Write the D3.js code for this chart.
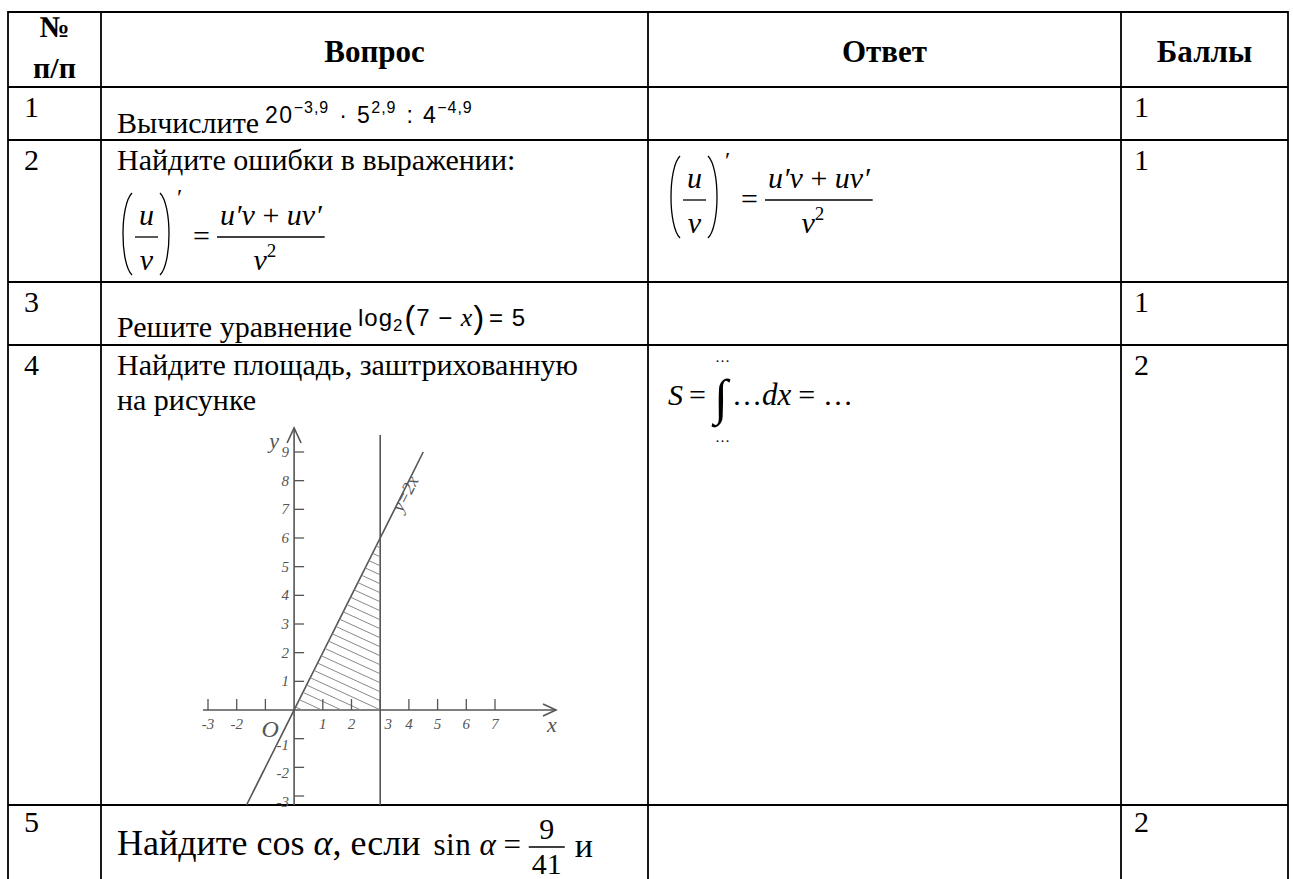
<!DOCTYPE html>
<html><head><meta charset="utf-8">
<script src="https://cdn.jsdelivr.net/npm/d3@7"></script>
<style>body{margin:0;background:#fff}svg{display:block}text{white-space:pre}</style>
</head><body>
<svg id="c" width="1293" height="879"></svg>
<script>
// ---------- data ----------
const headerLabels = [["№", "п/п"], ["Вопрос"], ["Ответ"], ["Баллы"]];
const rowNumbers = ["1", "2", "3", "4", "5"];
const questionLead = ["Вычислите", "Найдите ошибки в выражении:", "Решите уравнение", "Найдите площадь, заштрихованную", "Найдите"];
const questionLine2 = ["", "", "", "на рисунке", ""];
const scores = ["1", "1", "1", "2", "2"];
const powerBases = ["20", "5", "4"];
const powerExps = ["−3,9", "2,9", "−4,9"];
const powerOps = ["·", ":"];
const xTickValues = [-3, -2, -1, 1, 2, 3, 4, 5, 6, 7];
const xTickLabels = ["-3", "-2", "", "1", "2", "3", "4", "5", "6", "7"];
const yTickValues = [-3, -2, -1, 1, 2, 3, 4, 5, 6, 7, 8, 9];
const lineSlope = 2;          // y = 2x
const boundaryX = 3;          // x = 3
const lineLabel = "y=2x";
const fracNum = "9", fracDen = "41";

// ---------- layout ----------
const svg = d3.select("#c");
const SERIF = "'Liberation Serif','Times New Roman',serif";
const SANS = "'Liberation Sans',Arial,sans-serif";
const colEdges = [8, 101, 648, 1121, 1288];
const rowEdges = [12, 87, 140, 282, 345, 805];
const bottom = 879;
const BODY = 30;

const grid = svg.append("g").attr("stroke", "#000").attr("stroke-width", 1.8);
colEdges.forEach(x => grid.append("line").attr("x1", x).attr("x2", x).attr("y1", rowEdges[0] - 0.9).attr("y2", bottom));
rowEdges.forEach(y => grid.append("line").attr("x1", colEdges[0]).attr("x2", colEdges[4]).attr("y1", y).attr("y2", y));

function txt(g, x, y, t, o = {}) {
  const e = g.append("text").attr("x", x).attr("y", y)
    .style("font-family", o.f || SERIF).style("font-size", (o.s || BODY) + "px")
    .style("font-style", o.i ? "italic" : "normal").style("font-weight", o.b ? "bold" : "normal")
    .attr("text-anchor", o.a || "start").attr("fill", o.c || "#000").text(t);
  if (o.ls) e.style("letter-spacing", o.ls + "px");
  return e;
}
function run(g, x, y, parts) {
  let cx = x;
  parts.forEach(p => {
    if (p.gap !== undefined) { cx += p.gap; return; }
    const t = txt(g, cx, y + (p.dy || 0), p.t, p);
    cx += t.node().getComputedTextLength() + (p.after || 0);
  });
  return cx;
}
function frac(g, x, yBar, num, den, o) {
  const a = txt(g, 0, 0, num, o), b = txt(g, 0, 0, den, o);
  const w = Math.max(a.node().getComputedTextLength(), b.node().getComputedTextLength()) + (o.pad || 6);
  a.attr("x", x + w / 2).attr("y", yBar - (o.up || 8)).attr("text-anchor", "middle");
  b.attr("x", x + w / 2).attr("y", yBar + (o.down || 24)).attr("text-anchor", "middle");
  g.append("line").attr("x1", x).attr("x2", x + w).attr("y1", yBar).attr("y2", yBar).attr("stroke", "#000").attr("stroke-width", 1.3);
  return x + w;
}
function paren(g, x, y0, y1, dir) {
  const w = 12 * dir;
  g.append("path").attr("d", `M${x + w},${y0} C${x},${y0 + 12} ${x},${y1 - 12} ${x + w},${y1}`)
    .attr("fill", "none").attr("stroke", "#000").attr("stroke-width", 1.3);
}

const g = svg.append("g");
// header
const colCenter = i => (colEdges[i] + colEdges[i + 1]) / 2;
txt(g, colCenter(0), 37, headerLabels[0][0], { s: 30, b: true, a: "middle" });
txt(g, colCenter(0), 78, headerLabels[0][1], { s: 30, b: true, a: "middle" });
[1, 2, 3].forEach(i => txt(g, colCenter(i), 62, headerLabels[i][0], { s: 31, b: true, a: "middle" }));

// numbers & scores
const numBase = [117, 170, 312, 375, 832];
rowNumbers.forEach((n, i) => {
  txt(g, 24, numBase[i], n);
  txt(g, 1134, numBase[i], scores[i]);
});

const QX = 117;
// row 1
let x1 = run(g, QX, 133, [{ t: questionLead[0] }, { gap: 6 }]);
powerBases.forEach((b, i) => {
  x1 = run(g, x1, 123, [{ t: b, s: 23, f: SANS, ls: 1.5 }, { t: powerExps[i], s: 16, f: SANS, dy: -10, ls: 1, after: 4 }]);
  if (i < powerOps.length) x1 = run(g, x1, 123, [{ gap: 6 }, { t: powerOps[i], s: 23, f: SANS, after: 10 }]);
});

// row 2
txt(g, QX, 170, questionLead[1]);
function derivFormula(ox, oy) {
  paren(g, ox, oy - 44, oy + 38, 1);
  frac(g, ox + 15, oy, "u", "v", { s: 30, i: true, pad: 8, up: 12, down: 33 });
  paren(g, ox + 52, oy - 44, oy + 38, -1);
  txt(g, ox + 57, oy - 32, "′", { s: 24 });
  txt(g, ox + 73, oy + 9, "=", { s: 30 });
  const nx = ox + 100;
  const n = g.append("text").attr("x", nx).attr("y", oy - 12).style("font-family", SERIF).style("font-size", "30px").style("font-style", "italic");
  n.append("tspan").text("u′v");
  n.append("tspan").style("font-style", "normal").text(" + ");
  n.append("tspan").text("uv′");
  const nw = n.node().getComputedTextLength();
  g.append("line").attr("x1", nx - 3).attr("x2", nx + nw + 3).attr("y1", oy).attr("y2", oy).attr("stroke", "#000").attr("stroke-width", 1.4);
  const d = g.append("text").attr("x", nx + nw / 2 - 6).attr("y", oy + 33).style("font-family", SERIF).style("font-size", "30px").style("font-style", "italic").attr("text-anchor", "middle");
  d.append("tspan").text("v");
  d.append("tspan").attr("dy", -13).style("font-size", "19px").style("font-style", "normal").text("2");
}
derivFormula(120, 237);
derivFormula(668, 200);

// row 3
let x3 = run(g, QX, 337, [{ t: questionLead[2] }, { gap: 6 }]);
run(g, x3, 326, [{ t: "log", s: 24, f: SANS, ls: 1 }, { t: "2", s: 17, f: SANS, dy: 5, after: 2 },
  { t: "(", s: 32, f: SANS, dy: 2, after: 1 }, { t: "7 − ", s: 24, f: SANS, ls: 1 }, { t: "x", s: 26, f: SERIF, i: true, after: 1 },
  { t: ")", s: 32, f: SANS, dy: 2, after: 5 }, { t: "= 5", s: 24, f: SANS, ls: 1 }]);

// row 4
txt(g, QX, 375, questionLead[3]);
txt(g, QX, 410, questionLine2[3]);
let xa = run(g, 668, 405, [{ t: "S", s: 30, i: true, after: 6 }, { t: "=", s: 30, after: 8 }]);
txt(g, xa, 414, "∫", { s: 50 });
txt(g, xa + 1, 362, "…", { s: 15 });
txt(g, xa + 1, 442, "…", { s: 15 });
run(g, xa + 18, 405, [{ t: "…", s: 30 }, { t: "dx", s: 31, i: true, after: 7 }, { t: "=", s: 30, after: 8 }, { t: "…", s: 30 }]);

// row 5
let x5 = run(g, QX, 855, [{ t: questionLead[4] + " ", s: 36 }, { t: "cos", s: 36 }, { t: " α", s: 36, i: true }, { t: ", если ", s: 36 }, { gap: 4 },
  { t: "sin ", s: 31, ls: 0.5 }, { t: "α", s: 31, i: true }, { t: " = ", s: 31 }]);
x5 = frac(g, x5, 847, fracNum, fracDen, { s: 30, pad: 6, up: 8, down: 27 });
run(g, x5 + 10, 857, [{ t: "и", s: 34 }]);

// ---------- graph ----------
const GC = "#555";
const gx = d3.scaleLinear().domain([-3, 7]).range([208, 495]);
const gy = d3.scaleLinear().domain([-3, 9]).range([796, 452]);
const gr = svg.append("g").attr("stroke", GC).attr("fill", "none").attr("stroke-width", 1.6);
const clipTop = 428, clipBottom = rowEdges[5];

// hatched region under y=2x between x=0 and x=3
const tri = [[0, 0], [boundaryX, 0], [boundaryX, lineSlope * boundaryX]];
svg.append("clipPath").attr("id", "tri").append("path")
  .attr("d", d3.line().x(d => gx(d[0])).y(d => gy(d[1]))(tri) + "Z");
const hatch = svg.append("g").attr("clip-path", "url(#tri)").attr("stroke", "#888").attr("stroke-width", 1);
d3.range(gy(6.2) - 60, gy(0) + 10, 9).forEach(y0 => {
  hatch.append("line").attr("x1", gx(0)).attr("y1", y0).attr("x2", gx(3) + 2).attr("y2", y0 + (gx(3) - gx(0)) * 0.47);
});

// x axis
gr.append("line").attr("x1", 203).attr("x2", 556).attr("y1", gy(0)).attr("y2", gy(0));
gr.append("path").attr("d", `M${543},${gy(0) - 6} L556,${gy(0)} L${543},${gy(0) + 6}`);
// y axis
gr.append("line").attr("x1", gx(0)).attr("x2", gx(0)).attr("y1", clipTop).attr("y2", clipBottom);
gr.append("path").attr("d", `M${gx(0) - 7},${clipTop + 15} L${gx(0)},${clipTop} L${gx(0) + 7},${clipTop + 15}`);
// boundary x = 3
gr.append("line").attr("x1", gx(boundaryX)).attr("x2", gx(boundaryX)).attr("y1", 435).attr("y2", clipBottom);
// y = 2x
const xLo = gy.invert(clipBottom) / lineSlope, xHi = 4.5;
gr.append("line").attr("x1", gx(xLo)).attr("y1", gy(lineSlope * xLo)).attr("x2", gx(xHi)).attr("y2", gy(lineSlope * xHi));

// ticks and labels
const tk = svg.append("g").attr("stroke", GC).attr("stroke-width", 1.3);
xTickValues.forEach((v, i) => {
  tk.append("line").attr("x1", gx(v)).attr("x2", gx(v)).attr("y1", gy(0) - 11).attr("y2", gy(0));
  if (xTickLabels[i]) txt(svg, gx(v) + (v === boundaryX ? 8 : 0), gy(0) + 19, xTickLabels[i], { s: 15, i: true, a: "middle", c: GC });
});
yTickValues.forEach(v => {
  tk.append("line").attr("x1", gx(0)).attr("x2", gx(0) + 10).attr("y1", gy(v)).attr("y2", gy(v));
  txt(svg, gx(0) - 5, gy(v) + (v < 0 ? 11 : 5), String(v), { s: 15, i: true, a: "end", c: GC });
});
txt(svg, gx(0) - 24, gy(0) + 27, "O", { s: 24, i: true, a: "middle", c: GC });
txt(svg, 552, gy(0) + 22, "x", { s: 22, i: true, a: "middle", c: GC });
txt(svg, gx(0) - 20, 448, "y", { s: 22, i: true, a: "middle", c: GC });
const lx = gx(3.75) + 9, ly = gy(7.45);
txt(svg, lx, ly, lineLabel, { s: 18, i: true, a: "middle", c: GC }).attr("transform", `rotate(-63 ${lx} ${ly})`);
</script>
</body></html>
